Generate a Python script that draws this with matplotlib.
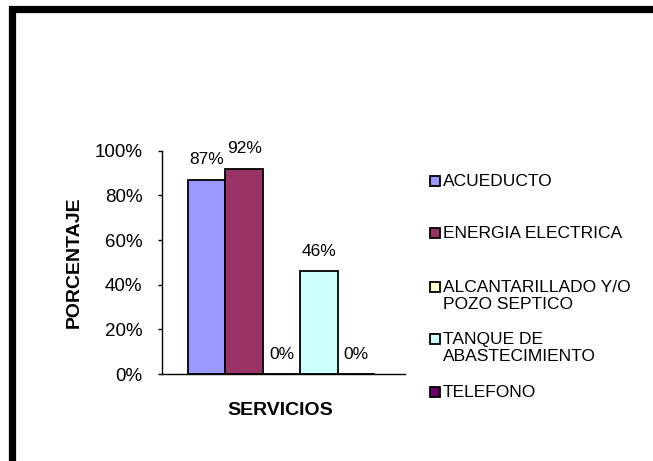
import matplotlib
matplotlib.use("Agg")
import matplotlib.pyplot as plt
from matplotlib.patches import Rectangle
from matplotlib.ticker import PercentFormatter

# data
SERVICES = [
    "ACUEDUCTO",
    "ENERGIA ELECTRICA",
    "ALCANTARILLADO Y/O\nPOZO SEPTICO",
    "TANQUE DE\nABASTECIMIENTO",
    "TELEFONO",
]
VALUES = [0.87, 0.92, 0.0, 0.46, 0.0]
VALUE_LABELS = ["87%", "92%", "0%", "46%", "0%"]
YTICKS = [0.0, 0.2, 0.4, 0.6, 0.8, 1.0]

COLORS = ["#9999FF", "#993366", "#FFFFCC", "#CCFFFF", "#660066"]

plt.rcParams["font.family"] = ["Liberation Sans", "DejaVu Sans"]

W, H = 653, 461
fig = plt.figure(figsize=(W / 100, H / 100), dpi=100)

# thick frame running off the right/bottom edges
fig.patches.append(Rectangle((12.5 / W, -0.2), 1.5, (H - 9.5) / H + 0.2,
                             transform=fig.transFigure, fill=False,
                             edgecolor="black", linewidth=5.2))

ax = fig.add_axes([162 / W, 1 - 374 / H, 243 / W, 223.3 / H])

bar_w = 0.154
xs = [(i - 2) * bar_w - 0.008 for i in range(len(VALUES))]
bars = ax.bar(xs, VALUES, width=bar_w, color=COLORS, edgecolor="black",
              linewidth=1.3, zorder=2)
for b, lab in zip(bars, VALUE_LABELS):
    ax.annotate(lab, (b.get_x() + b.get_width() / 2, b.get_height()),
                textcoords="offset points", xytext=(0, 9),
                ha="center", va="bottom", fontsize=12.5)

ax.set_xlim(-0.5, 0.5)
ax.set_ylim(0, 1)
ax.set_yticks(YTICKS)
ax.yaxis.set_major_formatter(PercentFormatter(1.0, decimals=0))
ax.set_xticks([])
ax.tick_params(axis="y", direction="out", length=3, width=1, pad=11,
               labelsize=13.5)
for s in ["top", "right"]:
    ax.spines[s].set_visible(False)
ax.spines["left"].set_linewidth(1)
ax.spines["bottom"].set_linewidth(1)

ax.set_ylabel("PORCENTAJE", fontsize=14, fontweight="bold")
ax.yaxis.set_label_coords(-0.326, 0.5)
ax.set_xlabel("SERVICIOS", fontsize=14, fontweight="bold")
ax.xaxis.set_label_coords(0.486, -0.125)

# legend
legend_y = [181, 233, 287, 339, 392]
for name, col, yy in zip(SERVICES, COLORS, legend_y):
    fig.patches.append(Rectangle((430 / W, 1 - (yy + 5) / H), 10 / W, 10 / H,
                                 transform=fig.transFigure,
                                 facecolor=col, edgecolor="black",
                                 linewidth=1.3))
    fig.text(443 / W, 1 - (yy - 7) / H, name, ha="left", va="top",
             fontsize=12.5, linespacing=1.15)

fig.savefig("out.png", dpi=100)
